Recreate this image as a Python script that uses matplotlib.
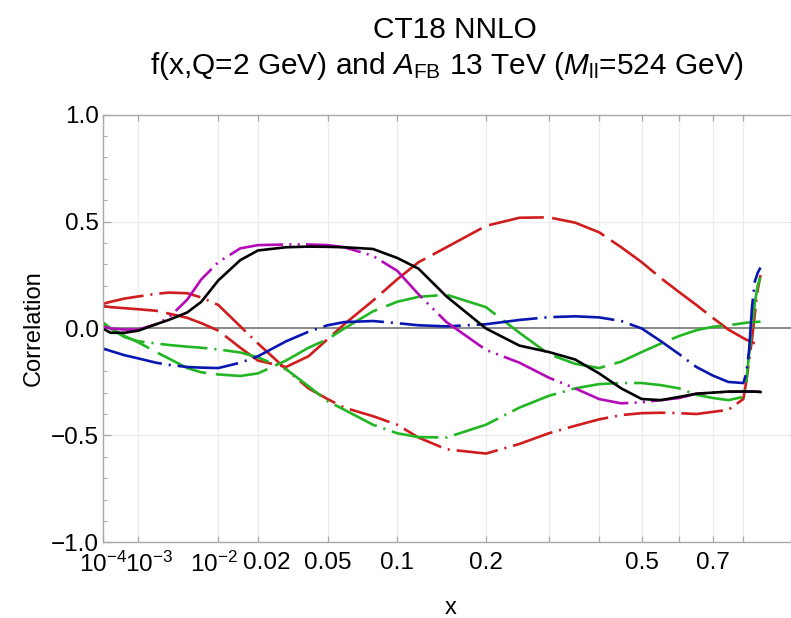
import numpy as np
import matplotlib
matplotlib.use("Agg")
import matplotlib.pyplot as plt
from matplotlib.ticker import FixedLocator, MultipleLocator
from matplotlib.transforms import ScaledTranslation

plt.rcParams['font.family'] = ['Liberation Sans', 'DejaVu Sans']
plt.rcParams['mathtext.fontset'] = 'custom'
plt.rcParams['mathtext.rm'] = 'Liberation Sans'
plt.rcParams['mathtext.it'] = 'Liberation Sans:italic'
plt.rcParams['mathtext.bf'] = 'Liberation Sans:bold'
plt.rcParams['lines.scale_dashes'] = False

# ---------------- data ----------------
x_main = [1e-4, 2e-4, 5e-4, 1e-3, 2e-3, 3e-3, 5e-3, 7e-3, 0.01, 0.015, 0.02, 0.03, 0.04, 0.05,
          0.06, 0.08, 0.1, 0.12, 0.15, 0.2, 0.25, 0.3, 0.35, 0.4, 0.45, 0.5,
          0.55, 0.6, 0.65, 0.7, 0.75, 0.8]
x_tail = [0.81, 0.82, 0.83, 0.84, 0.85, 0.86]

black_solid = [0.0, -0.02, -0.02, -0.01, 0.02, 0.04, 0.075, 0.125, 0.225, 0.32, 0.365, 0.38, 0.383, 0.382,
               0.38, 0.372, 0.33, 0.28, 0.15, 0.0, -0.08, -0.11, -0.145, -0.21, -0.28, -0.33,
               -0.335, -0.32, -0.305, -0.30, -0.295, -0.295]
black_tail = [-0.295, -0.295, -0.295, -0.295, -0.296, -0.297]

magenta_ddd = [0.01, 0.0, -0.005, -0.005, 0.02, 0.05, 0.135, 0.23, 0.31, 0.375, 0.39, 0.393, 0.393, 0.39,
               0.38, 0.34, 0.27, 0.16, 0.03, -0.1, -0.16, -0.23, -0.28, -0.33, -0.35, -0.345,
               -0.335, -0.325, -0.305, -0.30, -0.296, -0.295]
magenta_tail = [-0.295, -0.295, -0.295, -0.295, -0.296, -0.296]

red_dash = [0.105, 0.10, 0.095, 0.09, 0.083, 0.07, 0.05, 0.025, -0.01, -0.09, -0.15, -0.18, -0.13, -0.05,
            0.02, 0.13, 0.23, 0.31, 0.38, 0.48, 0.518, 0.52, 0.495, 0.45, 0.38, 0.31,
            0.235, 0.17, 0.11, 0.05, -0.005, -0.045]
red_dash_tail = [-0.052, -0.058, -0.064, -0.07]

red_dashdot = [0.115, 0.125, 0.14, 0.15, 0.162, 0.168, 0.165, 0.145, 0.11, 0.01, -0.07, -0.19, -0.28, -0.33,
               -0.37, -0.41, -0.45, -0.51, -0.565, -0.585, -0.54, -0.49, -0.455, -0.425, -0.405, -0.396,
               -0.394, -0.396, -0.40, -0.39, -0.38, -0.33]
red_dashdot_tail = [-0.25, -0.15, -0.05, 0.07, 0.18, 0.25]

green_dash = [0.024, 0.0, -0.035, -0.065, -0.11, -0.14, -0.185, -0.205, -0.215, -0.222, -0.21, -0.15, -0.09, -0.05,
              0.0, 0.08, 0.125, 0.148, 0.158, 0.10, -0.02, -0.12, -0.165, -0.185, -0.155, -0.11,
              -0.07, -0.035, -0.008, 0.008, 0.015, 0.025]
green_dash_tail = [0.027, 0.028, 0.029, 0.030, 0.031, 0.032]

green_dashdot = [0.03, 0.0, -0.04, -0.06, -0.07, -0.077, -0.085, -0.09, -0.098, -0.112, -0.135, -0.19, -0.27, -0.34,
                 -0.38, -0.45, -0.49, -0.508, -0.51, -0.45, -0.37, -0.315, -0.28, -0.26, -0.255, -0.255,
                 -0.265, -0.28, -0.31, -0.325, -0.335, -0.32]
green_dashdot_tail = [-0.25, -0.12, 0.0, 0.12, 0.2, 0.24]

blue_dashdot = [-0.093, -0.105, -0.125, -0.14, -0.16, -0.17, -0.18, -0.183, -0.185, -0.16, -0.13, -0.06, -0.015, 0.015,
                0.03, 0.035, 0.025, 0.015, 0.01, 0.02, 0.04, 0.053, 0.057, 0.052, 0.035, 0.0,
                -0.06, -0.12, -0.18, -0.22, -0.25, -0.255]
blue_tail = [-0.21, -0.1, 0.1, 0.22, 0.26, 0.285]

xtick_vals = [1e-4, 1e-3, 1e-2, 0.02, 0.05, 0.1, 0.2, 0.3, 0.4, 0.5, 0.6, 0.7, 0.8]
xtick_labels = [r"$10^{-4}$", r"$10^{-3}$", r"$10^{-2}$", "0.02", "0.05", "0.1", "0.2",
                "", "", "0.5", "", "0.7", ""]
ytick_vals = [-1.0, -0.5, 0.0, 0.5, 1.0]
ytick_labels = ["\u22121.0", "\u22120.5", "0.0", "0.5", "1.0"]

title1 = "CT18 NNLO"
title2 = r"f(x,Q=2 GeV) and $A_{\mathrm{FB}}$ 13 TeV ($M_{\mathrm{ll}}$=524 GeV)"

# ---------------- figure ----------------
W, H = 791, 618
fig = plt.figure(figsize=(W / 100, H / 100), dpi=100)
l, r, t, b = 102.7, 797.7, 114.7, 542.3
ax = fig.add_axes([l / W, 1 - b / H, (r - l) / W, (b - t) / H])

p = 0.35
ax.set_xscale('function', functions=(lambda v: np.power(np.clip(v, 1e-12, None), p),
                                     lambda v: np.power(np.clip(v, 0, None), 1 / p)))
ax.set_xlim(1e-4, 1.0)
ax.set_ylim(-1, 1)

red = '#d01c1c'
green = '#22b622'
blue = '#0a16b0'
magenta = '#b40ab8'
lw = 1.9
dot = 1.5

xs_full = x_main + x_tail
xr = x_main + x_tail[:4]

ax.plot(xr, red_dash + red_dash_tail, color=red, lw=lw, dashes=(40, 6))
ax.plot(xs_full, red_dashdot + red_dashdot_tail, color=red, lw=lw, dashes=(30, 5, dot, 5))
ax.plot(xs_full, green_dash + green_dash_tail, color=green, lw=lw, dashes=(38, 7))
ax.plot(xs_full, green_dashdot + green_dashdot_tail, color=green, lw=lw, dashes=(34, 5, dot, 5))
ax.plot(xs_full, blue_dashdot + blue_tail, color=blue, lw=lw, dashes=(44, 5, dot, 5))
ax.plot(xs_full, magenta_ddd + magenta_tail, color=magenta, lw=lw,
        dashes=(40, 4.5, dot, 4.5, dot, 4.5))
ax.plot(xs_full, black_solid + black_tail, color='black', lw=lw)

ax.axhline(0, color='#808080', lw=1.3, zorder=1)

# grid
for xv in xtick_vals[1:]:
    ax.axvline(xv, color='#ececec', lw=0.9, zorder=0)
for yv in (-0.5, 0.5):
    ax.axhline(yv, color='#ececec', lw=0.9, zorder=0)

ax.xaxis.set_major_locator(FixedLocator(xtick_vals))
ax.set_xticklabels(xtick_labels)
ax.xaxis.set_minor_locator(FixedLocator([]))
ax.yaxis.set_major_locator(FixedLocator(ytick_vals))
ax.set_yticklabels(ytick_labels)
ax.yaxis.set_minor_locator(MultipleLocator(0.1))

for s in ax.spines.values():
    s.set_color('#a8a8a8')
    s.set_linewidth(1.0)

ax.tick_params(axis='both', which='both', direction='in', top=True, right=True,
               color='#a8a8a8', labelcolor='black', labelsize=17.5)
ax.tick_params(axis='x', which='major', length=4, width=0.9, pad=7)
ax.tick_params(axis='y', which='major', length=5.5, width=0.9, pad=3)
ax.tick_params(axis='y', which='minor', length=3, width=0.8)

# nudge crowded x tick labels sideways as in the reference
label_shift_px = {1: 11, 2: -4, 3: 9}
ticks = ax.xaxis.get_major_ticks()
for i, dx in label_shift_px.items():
    lab = ticks[i].label1
    lab.set_transform(lab.get_transform() + ScaledTranslation(dx / 100, 0, fig.dpi_scale_trans))

ax.set_xlabel("x", fontsize=17, labelpad=14)
ax.set_ylabel("Correlation", fontsize=17, labelpad=4)

fig.text(455 / W, 1 - 30 / H, title1, ha='center', va='center', fontsize=21.5)
fig.text(447 / W, 1 - 66 / H, title2, ha='center', va='center', fontsize=21.5)

fig.savefig("out.png", dpi=100)
